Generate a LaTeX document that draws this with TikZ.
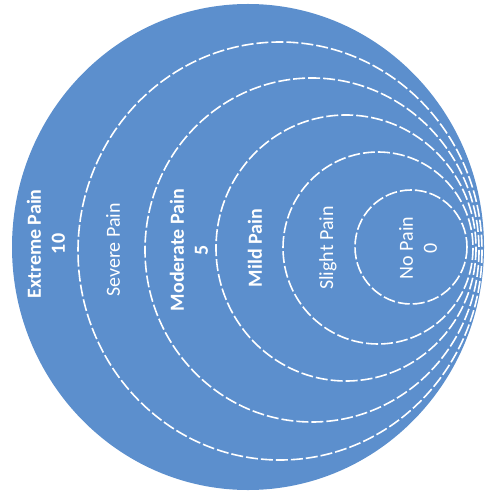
\documentclass[tikz,border=0pt]{standalone}
\usepackage{fontspec}
\setmainfont{Carlito}
\usepackage{xcolor}
\definecolor{painblue}{HTML}{5C8FCD}
\usepackage{tikz}

\begin{document}
\begin{tikzpicture}[x=1pt, y=-1pt,
    ring/.style={white, line width=1.6pt, dash pattern=on 12pt off 3pt},
    lbl/.style={text=white, rotate=90, align=center, font=\fontsize{20}{24}\selectfont},
    lblb/.style={lbl, font=\fontsize{20}{24}\selectfont\bfseries}]
  \useasboundingbox (0,0) rectangle (486,494);
  % nền tròn
  \fill[painblue] (248,247) ellipse [x radius=236, y radius=243];
  % các vòng đứt nét
  \foreach \cx/\cy/\rx/\ry in {280/251/202/209, 312/250/167/172, 346/248/130/133,
                               378/248/95/96, 411/247/56/57}{
    \draw[ring] (\cx,\cy) ellipse [x radius=\rx, y radius=\ry];
  }
  % nhãn
  \node[lblb] (extreme)  at (46,244)  {Extreme Pain\\10};
  \node[lbl]  (severe)   at (113,250) {Severe Pain};
  \node[lblb] (moderate) at (189,250) {Moderate Pain\\5};
  \node[lblb] (mild)     at (255,248) {Mild Pain};
  \node[lbl]  (slight)   at (328,248) {Slight Pain};
  \node[lbl]  (nopain)   at (418,248) {No Pain\\0};
\end{tikzpicture}
\end{document}
